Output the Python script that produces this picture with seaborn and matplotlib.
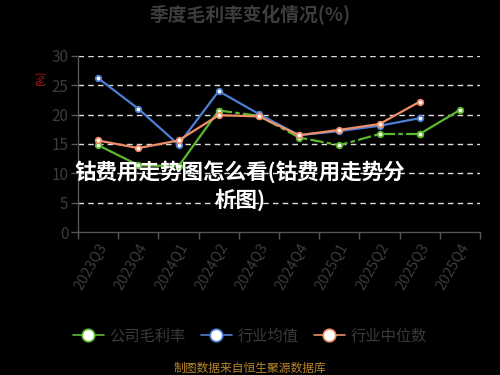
import seaborn as sns
import numpy as np
import matplotlib.pyplot as plt
import pandas as pd

# quarterly gross margin data (%)
quarters = ['2023Q3', '2023Q4', '2024Q1', '2024Q2', '2024Q3',
            '2024Q4', '2025Q1', '2025Q2', '2025Q3', '2025Q4']
company = [14.8, 11.4, 11.2, 20.7, 19.8, 16.1, 14.8, 16.7, 16.7, 20.8]
ind_mean = [26.2, 21.0, 14.9, 24.0, 20.1, 16.5, 17.2, 18.1, 19.4, np.nan]
ind_median = [15.6, 14.3, 15.6, 19.9, 19.7, 16.5, 17.4, 18.4, 22.2, np.nan]
series_names = ['公司毛利率', '行业均值', '行业中位数']

green = '#5cb82c'
blue = '#4d7fd6'
orange = '#ef8f68'

sns.set_theme(style='dark')
plt.rcParams['font.family'] = ['Noto Sans CJK SC', 'DejaVu Sans']

df = pd.DataFrame({'x': np.arange(len(quarters)),
                   'company': company,
                   'mean': ind_mean,
                   'median': ind_median})

fig = plt.figure(figsize=(5, 3.75), dpi=100, facecolor='black')
ax = fig.add_axes([0.156, 0.381, 0.804, 0.47])
ax.set_facecolor('black')

mk = dict(marker='o', markersize=4, markerfacecolor='white',
          markeredgewidth=1.3, linewidth=1.6)

# company line: solid at the start and end, dash-dot in the middle
sns.lineplot(data=df.iloc[0:4], x='x', y='company', ax=ax, color=green,
             markeredgecolor=green, label=series_names[0], **mk)
sns.lineplot(data=df.iloc[3:9], x='x', y='company', ax=ax, color=green,
             markeredgecolor=green, dashes=False, **mk)
ax.lines[-1].set_dashes((6, 1.5, 2, 1.5))
sns.lineplot(data=df.iloc[8:10], x='x', y='company', ax=ax, color=green,
             markeredgecolor=green, **mk)

sns.lineplot(data=df, x='x', y='mean', ax=ax, color=blue,
             markeredgecolor=blue, label=series_names[1], **mk)
sns.lineplot(data=df, x='x', y='median', ax=ax, color=orange,
             markeredgecolor=orange, label=series_names[2], **mk)

# axes
ax.set_xlim(-0.5, len(quarters) - 0.5)
ax.set_ylim(0, 30)
ax.set_yticks(range(0, 31, 5))
ax.set_xticks(range(len(quarters)))
ax.set_xticklabels(quarters, rotation=60, ha='right', rotation_mode='anchor')
ax.set_xticks(np.arange(-0.5, len(quarters), 1), minor=True)
ax.set_xlabel('')
ax.set_ylabel('')
ax.tick_params(axis='x', which='major', length=0, pad=6,
               labelsize=10.5, labelcolor='#3c3c3c')
ax.tick_params(axis='x', which='minor', length=5, width=1,
               color='#555555', direction='out', bottom=True)
ax.tick_params(axis='y', length=5, width=1, color='#555555', left=True,
               labelsize=11, labelcolor='#3c3c3c', pad=2)

ax.grid(False)
for v in range(5, 31, 5):
    ax.axhline(v, color='#dddddd', linewidth=1, dashes=(4, 3), zorder=0.5)

for side in ['top', 'right']:
    ax.spines[side].set_visible(False)
for side in ['left', 'bottom']:
    ax.spines[side].set_color('#555555')
    ax.spines[side].set_linewidth(1)

ax.get_legend().remove()
handles, labels = ax.get_legend_handles_labels()
leg = fig.legend(handles, labels, loc='center', bbox_to_anchor=(0.5, 0.104),
                 ncol=3, frameon=False, fontsize=11, handlelength=2.0,
                 handletextpad=0.4, columnspacing=1.0, labelcolor='#3a3a3a')
for h in leg.legend_handles:
    h.set_markersize(9)
    h.set_markeredgewidth(1.2)
    h.set_linewidth(1.2)
    h.set_linestyle('-')

fig.text(0.5, 0.96, '季度毛利率变化情况(%)', ha='center', va='center',
         fontsize=13.5, fontweight='bold', color='#3d3d3d')
fig.text(0.082, 0.79, '(%)', ha='center', va='center', rotation=90,
         fontsize=7, color='#c8201e')
fig.text(0.5, 0.018, '制图数据来自恒生聚源数据库', ha='center', va='center',
         fontsize=8.5, color='#b8862b')

# overlay headline in white
fig.text(0.48, 0.505, '钴费用走势图怎么看(钴费用走势分\n析图)', ha='center',
         va='center', fontsize=15.5, fontweight='bold', color='white',
         linespacing=1.3)

fig.savefig('out.png', dpi=100, facecolor='black')
